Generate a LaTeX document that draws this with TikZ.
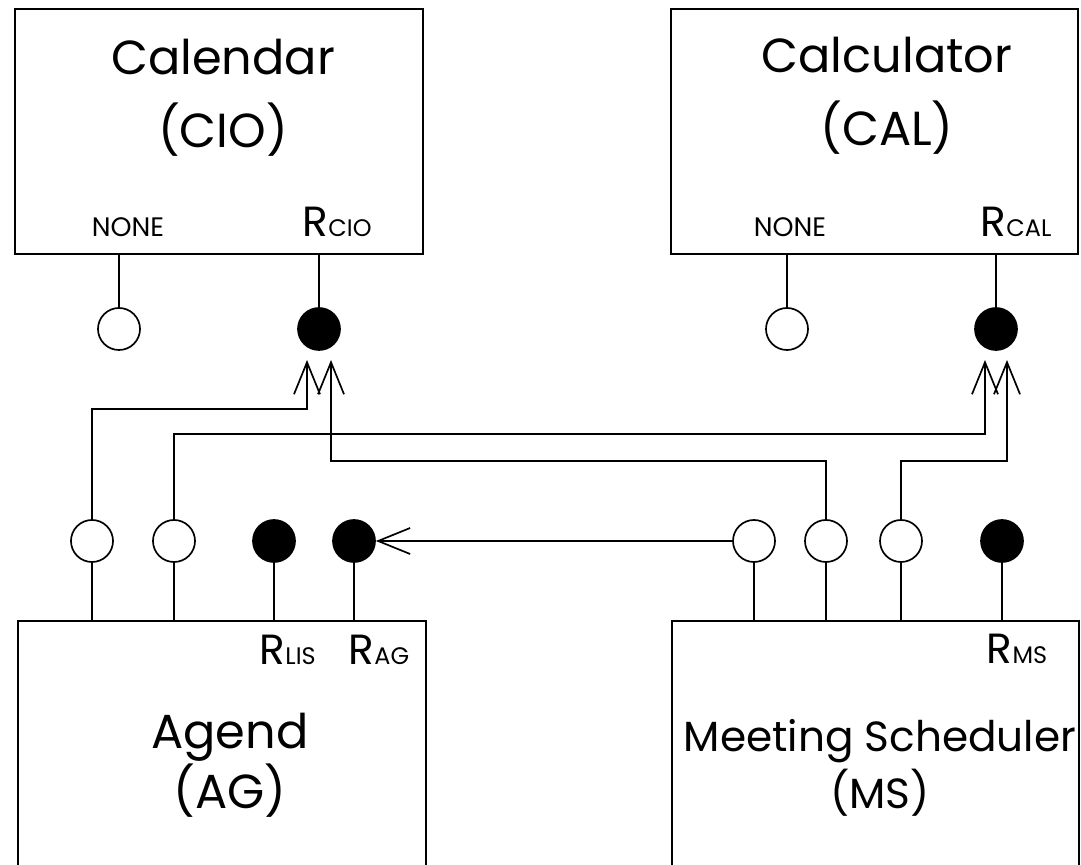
\documentclass[tikz,border=0pt]{standalone}
\usepackage{fontspec}
\setmainfont{Poppins}
\usetikzlibrary{arrows.meta}

\newcommand{\rname}[1]{{\fontsize{30}{30}\selectfont R}{\fontsize{17}{17}\selectfont #1}}

\begin{document}
\begin{tikzpicture}[x=0.025cm, y=-0.025cm, line width=1.2pt,
    agentbox/.style = {draw, rectangle, inner sep=0pt},
    hollowport/.style = {circle, draw, fill=white, minimum size=1.05cm, inner sep=0pt},
    solidport/.style = {circle, draw, fill=black, minimum size=1.05cm, inner sep=0pt},
    nonetext/.style = {anchor=base, inner sep=0pt, font=\fontsize{19}{19}\selectfont},
    rtext/.style = {anchor=base west, inner sep=0pt},
    flow/.style = {arrows = -{Straight Barb[length=0.8cm, width=0.65cm]}}]

            % \draw [help lines] (0,0) grid (1081,865);
            \clip (0,0) rectangle (1081,865);

            % the four agents
            \path   (219,131.5) node (cio) [agentbox, minimum width=10.2cm, minimum height=6.125cm] {}
                    (874.5,131.5) node (cal) [agentbox, minimum width=10.175cm, minimum height=6.125cm] {}
                    (222,810.5) node (ag) [agentbox, minimum width=10.2cm, minimum height=9.475cm] {}
                    (875.5,810.5) node (ms) [agentbox, minimum width=10.175cm, minimum height=9.475cm] {};

            \path   (223,98) node (ciotitle) [align=center, font=\fontsize{34}{52}\selectfont] {Calendar\\(CIO)}
                    (887,96) node (caltitle) [align=center, font=\fontsize{34}{52}\selectfont] {Calculator\\(CAL)}
                    (230,765) node (agtitle) [align=center, font=\fontsize{34}{42.5}\selectfont] {Agend\\(AG)}
                    (880,768) node (mstitle) [align=center, font=\fontsize{30}{41}\selectfont] {Meeting Scheduler\\(MS)};

            % ports
            \path   (119,329) node (cionone) [hollowport] {}
                    (319,329) node (ciores) [solidport] {}
                    (787,329) node (calnone) [hollowport] {}
                    (996,329) node (calres) [solidport] {}
                    (92,541) node (agout1) [hollowport] {}
                    (174,541) node (agout2) [hollowport] {}
                    (274,541) node (aglis) [solidport] {}
                    (354,541) node (agres) [solidport] {}
                    (754,541) node (msout1) [hollowport] {}
                    (826,541) node (msout2) [hollowport] {}
                    (901,541) node (msout3) [hollowport] {}
                    (1002,541) node (msres) [solidport] {};

            \foreach \p in {cionone, ciores}
                \draw (\p) -- (\p |- cio.south);
            \foreach \p in {calnone, calres}
                \draw (\p) -- (\p |- cal.south);
            \foreach \p in {agout1, agout2, aglis, agres}
                \draw (\p) -- (\p |- ag.north);
            \foreach \p in {msout1, msout2, msout3, msres}
                \draw (\p) -- (\p |- ms.north);

            % port names
            \path   (128,237) node (cionone label) [nonetext] {NONE}
                    (302,237) node (ciores label) [rtext] {\rname{CIO}}
                    (790,237) node (calnone label) [nonetext] {NONE}
                    (980,237) node (calres label) [rtext] {\rname{CAL}}
                    (259,665) node (aglis label) [rtext] {\rname{LIS}}
                    (348,665) node (agres label) [rtext] {\rname{AG}}
                    (986,664) node (msres label) [rtext] {\rname{MS}};

            % requests
            \coordinate (cioin1) at (307,360);
            \coordinate (cioin2) at (331,360);
            \coordinate (calin1) at (985,360);
            \coordinate (calin2) at (1007,360);

            \draw[flow] (agout1) -- (agout1 |- 0,409) -| (cioin1);
            \draw[flow] (msout2) -- (msout2 |- 0,461) -| (cioin2);
            \draw[flow] (agout2) -- (agout2 |- 0,434) -| (calin1);
            \draw[flow] (msout3) -- (msout3 |- 0,461) -| (calin2);
            \draw[flow] (msout1) -- (agres);

\end{tikzpicture}
\end{document}
